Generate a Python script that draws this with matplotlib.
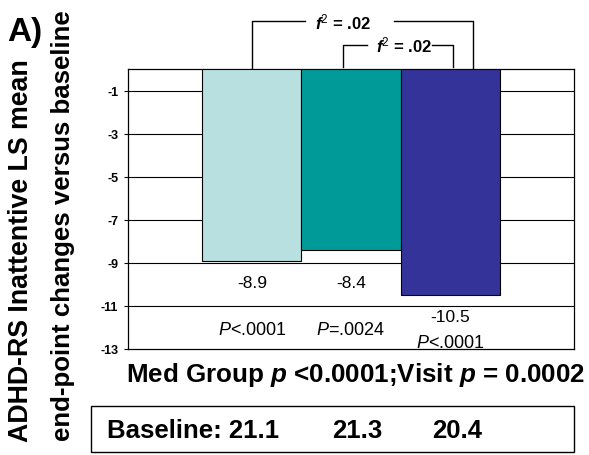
import matplotlib
matplotlib.use("Agg")
import matplotlib.pyplot as plt
from matplotlib.patches import Rectangle

plt.rcParams['font.family'] = ['Liberation Sans', 'DejaVu Sans']
plt.rcParams['mathtext.fontset'] = 'custom'
plt.rcParams['mathtext.rm'] = 'Liberation Sans'
plt.rcParams['mathtext.it'] = 'Liberation Sans:italic'
plt.rcParams['mathtext.bf'] = 'Liberation Sans:bold'
plt.rcParams['mathtext.bfit'] = 'Liberation Sans:italic:bold'

# data
groups = ["Group 1", "Group 2", "Group 3"]
changes = [-8.9, -8.4, -10.5]
change_labels = ["-8.9", "-8.4", "-10.5"]
p_labels = ["$\\mathit{P}$<.0001", "$\\mathit{P}$=.0024", "$\\mathit{P}$<.0001"]
baselines = ["21.1", "21.3", "20.4"]
yticks = [-1, -3, -5, -7, -9, -11, -13]
colors = ["#b9e0e1", "#009b98", "#343399"]

fig = plt.figure(figsize=(5.89, 4.56), dpi=100)
ax = fig.add_axes([128/589, 1-350/456, 446/589, 280/456])

x = list(range(len(groups)))
ax.bar(x, changes, width=1.0, color=colors, edgecolor='black', linewidth=0.8, zorder=3)
ax.set_xlim(-1.25, 3.25)
ax.set_ylim(-13, 0)
ax.set_yticks(yticks)
ax.set_yticklabels([str(t) for t in yticks], fontsize=9, fontweight='bold')
ax.set_xticks([])
for t in yticks[:-1]:
    ax.axhline(t, color='black', linewidth=0.8, zorder=1)
ax.tick_params(axis='y', length=3, width=0.8, pad=4)
for s in ax.spines.values():
    s.set_linewidth(0.9)

# value and p labels
label_y = [-9.9, -9.9, -11.5]
p_y = [-12.1, -12.1, -12.72]
for i in x:
    ax.text(i, label_y[i], change_labels[i], ha='center', va='center', fontsize=12.5, zorder=4)
    ax.text(i, p_y[i], p_labels[i], ha='center', va='center', fontsize=13, zorder=4)

# brackets
lk = dict(color='black', linewidth=1.0, clip_on=False)
ax.plot([0, 0, 0.54], [0, 2.23, 2.23], **lk)
ax.plot([1.43, 2.235, 2.235], [2.23, 2.23, 0], **lk)
ax.text(0.92, 2.23, "$\\mathbfit{f}^2$ = .02", ha='center', va='center', fontsize=12, fontweight='bold')
ax.plot([0.92, 0.92, 1.16], [0.1, 1.12, 1.12], **lk)
ax.plot([1.82, 2.03, 2.03], [1.12, 1.12, 0.1], **lk)
ax.text(1.53, 1.12, "$\\mathbfit{f}^2$ = .02", ha='center', va='center', fontsize=12, fontweight='bold')

# y label, two lines
fig.text(21/589, 1-442/456, "ADHD-RS Inattentive LS mean", rotation=90,
         ha='center', va='bottom', fontsize=19.3, fontweight='bold')
fig.text(63/589, 1-441/456, "end-point changes versus baseline", rotation=90,
         ha='center', va='bottom', fontsize=18.6, fontweight='bold')

fig.text(25/589, 1-32/456, "A)", ha='center', va='center', fontsize=24, fontweight='bold')

fig.text(355/589, 1-375/456, "Med Group $\\mathbfit{p}$ <0.0001;Visit $\\mathbfit{p}$ = 0.0002",
         ha='center', va='center', fontsize=18.7, fontweight='bold')

box = Rectangle((91/589, 1-453/456), 483/589, 46/456, transform=fig.transFigure,
                fill=False, edgecolor='black', linewidth=1.0)
fig.patches.append(box)
fig.text(107/589, 1-431/456, "Baseline: " + baselines[0], ha='left', va='center',
         fontsize=18.5, fontweight='bold')
fig.text(332/589, 1-431/456, baselines[1], ha='left', va='center', fontsize=18.5, fontweight='bold')
fig.text(432/589, 1-431/456, baselines[2], ha='left', va='center', fontsize=18.5, fontweight='bold')

fig.savefig("out.png", dpi=100)
